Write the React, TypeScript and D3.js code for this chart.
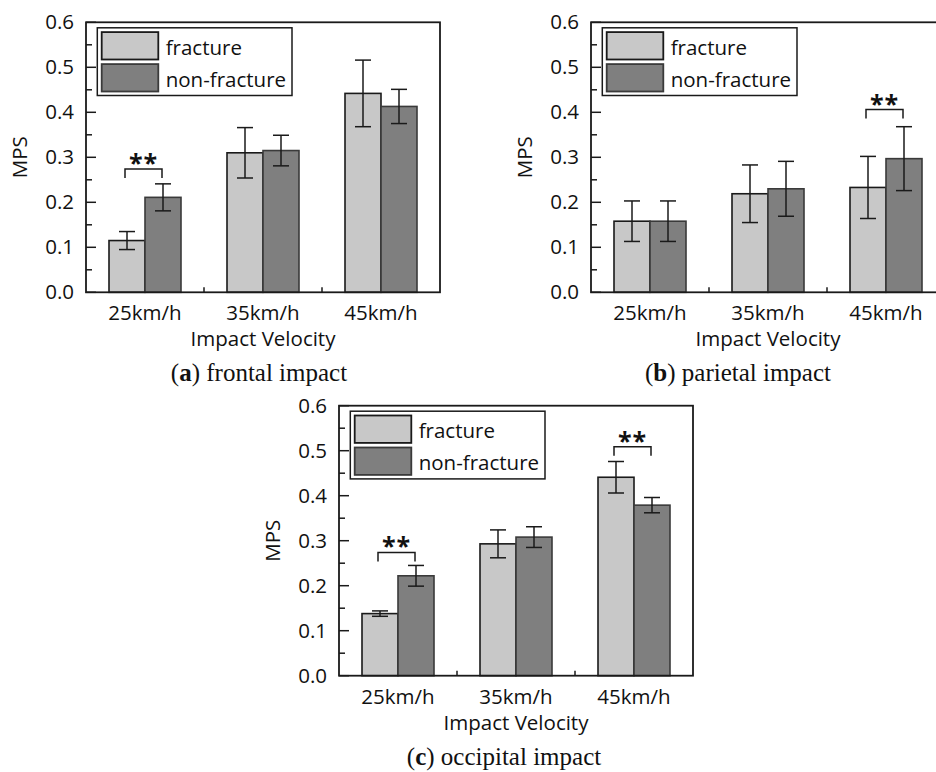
import React from 'react';
import * as d3 from 'd3';

// impact velocity groups
const categories = ['25km/h', '35km/h', '45km/h'];
const seriesNames = ['fracture', 'non-fracture'];
const yTicks = [0.0, 0.1, 0.2, 0.3, 0.4, 0.5, 0.6];
const yMinorTicks = [0.05, 0.15, 0.25, 0.35, 0.45, 0.55];

// (a) frontal impact
const frontalFracture = [0.115, 0.310, 0.442];
const frontalFractureErr = [0.020, 0.056, 0.074];
const frontalNonFracture = [0.211, 0.315, 0.413];
const frontalNonFractureErr = [0.030, 0.034, 0.038];
const frontalSig = [{ cat: '25km/h', level: 0.274 }];

// (b) parietal impact
const parietalFracture = [0.158, 0.219, 0.233];
const parietalFractureErr = [0.045, 0.064, 0.069];
const parietalNonFracture = [0.158, 0.230, 0.297];
const parietalNonFractureErr = [0.045, 0.061, 0.071];
const parietalSig = [{ cat: '45km/h', level: 0.406 }];

// (c) occipital impact
const occipitalFracture = [0.138, 0.293, 0.441];
const occipitalFractureErr = [0.006, 0.031, 0.035];
const occipitalNonFracture = [0.222, 0.308, 0.379];
const occipitalNonFractureErr = [0.023, 0.023, 0.017];
const occipitalSig = [{ cat: '25km/h', level: 0.274 }, { cat: '45km/h', level: 0.509 }];

const fills = ['#c8c8c8', '#7f7f7f'];
const strokes = ['#1a1a1a', '#3a3a3a'];
const sans = '"Open Sans", sans-serif';
const serif = '"Liberation Serif", serif';
const fontSize = 20.5;

const plotW = 354;
const plotH = 270;

type PanelProps = {
  left: number
  top: number
  values: number[][]
  errors: number[][]
  sig: { cat: string, level: number }[]
  letter: string
  caption: string
  captionX: number
}

const Panel = (props: PanelProps) => {
  const x0 = d3.scaleBand().domain(categories).range([0, plotW]);
  const bw = x0.bandwidth();
  const x1 = d3.scaleBand().domain(seriesNames).range([(bw - 72) / 2, (bw + 72) / 2]);
  const y = d3.scaleLinear().domain([0, 0.6]).range([plotH, 0]);
  const barW = x1.bandwidth();
  const cx = (c: string, s: string) => (x0(c) as number) + (x1(s) as number) + barW / 2;

  return (
    <g transform={`translate(${props.left},${props.top})`} fontFamily={sans} fontSize={fontSize} fill="#111">
      {/* bars */}
      {seriesNames.map((s, si) => categories.map((c, ci) => (
        <rect key={s + c}
          x={(x0(c) as number) + (x1(s) as number)}
          y={y(props.values[si][ci])}
          width={barW}
          height={plotH - y(props.values[si][ci])}
          fill={fills[si]} stroke={strokes[si]} strokeWidth={1.6} />
      )))}
      {/* error bars */}
      {seriesNames.map((s, si) => categories.map((c, ci) => {
        const v = props.values[si][ci];
        const e = props.errors[si][ci];
        const xc = cx(c, s);
        return (
          <g key={'e' + s + c} stroke="#1a1a1a" strokeWidth={1.5}>
            <line x1={xc} x2={xc} y1={y(v + e)} y2={y(v - e)} />
            <line x1={xc - 8} x2={xc + 8} y1={y(v + e)} y2={y(v + e)} />
            <line x1={xc - 8} x2={xc + 8} y1={y(v - e)} y2={y(v - e)} />
          </g>
        );
      }))}
      {/* significance */}
      {props.sig.map((d, i) => {
        const xa = cx(d.cat, seriesNames[0]) - 2;
        const xb = cx(d.cat, seriesNames[1]) - 1;
        const yl = y(d.level);
        return (
          <g key={'s' + i}>
            <path d={`M${xa},${yl + 9}V${yl}H${xb}V${yl + 9}`} fill="none" stroke="#1a1a1a" strokeWidth={1.5} />
            <text x={(xa + xb) / 2} y={yl + 3} textAnchor="middle" fontSize={25} fontWeight="bold" letterSpacing={1}>**</text>
          </g>
        );
      })}
      {/* frame */}
      <rect x={0} y={0} width={plotW} height={plotH} fill="none" stroke="#1a1a1a" strokeWidth={1.8} />
      {/* y ticks */}
      {yTicks.map(t => (
        <g key={'t' + t}>
          <line x1={0} x2={10} y1={y(t)} y2={y(t)} stroke="#1a1a1a" strokeWidth={1.5} />
          <text x={-12} y={y(t)} dy="0.35em" textAnchor="end">{t.toFixed(1)}</text>
        </g>
      ))}
      {yMinorTicks.map(t => (
        <line key={'m' + t} x1={0} x2={6} y1={y(t)} y2={y(t)} stroke="#1a1a1a" strokeWidth={1.5} />
      ))}
      {/* x ticks between groups */}
      {categories.slice(1).map(c => (
        <line key={'x' + c} x1={x0(c)} x2={x0(c)} y1={plotH} y2={plotH - 5} stroke="#1a1a1a" strokeWidth={1.5} />
      ))}
      {categories.map(c => (
        <text key={'l' + c} x={(x0(c) as number) + bw / 2} y={plotH + 28} textAnchor="middle">{c}</text>
      ))}
      <text x={plotW / 2} y={plotH + 54} textAnchor="middle">Impact Velocity</text>
      <text transform={`translate(-66,${plotH / 2}) rotate(-90)`} dy="0.35em" textAnchor="middle">MPS</text>
      {/* legend */}
      <g transform="translate(11.3,5.5)">
        <rect x={0} y={0} width={194.7} height={67.7} fill="#fff" stroke="#1a1a1a" strokeWidth={1.5} />
        {seriesNames.map((s, si) => (
          <g key={'lg' + s} transform={`translate(4.4,${4.3 + si * 32})`}>
            <rect x={0} y={0} width={56.6} height={27.4} fill={fills[si]} stroke={strokes[si]} strokeWidth={1.8} />
            <text x={64} y={22.5}>{s}</text>
          </g>
        ))}
      </g>
      {/* caption */}
      <text x={props.captionX - props.left} y={plotH + 89} textAnchor="middle" fontFamily={serif} fontSize={25}>
        (<tspan fontWeight="bold">{props.letter}</tspan>) {props.caption}
      </text>
    </g>
  );
};

const App = () => {
  return (
    <svg width={936} height={772} style={{ position: 'absolute', left: 0, top: 0, background: '#fff' }}>
      <rect width={936} height={772} fill="#fff" />
      <Panel left={86} top={22.3}
        values={[frontalFracture, frontalNonFracture]}
        errors={[frontalFractureErr, frontalNonFractureErr]}
        sig={frontalSig} letter="a" caption="frontal impact" captionX={259} />
      <Panel left={591} top={22.3}
        values={[parietalFracture, parietalNonFracture]}
        errors={[parietalFractureErr, parietalNonFractureErr]}
        sig={parietalSig} letter="b" caption="parietal impact" captionX={738} />
      <Panel left={339} top={405.7}
        values={[occipitalFracture, occipitalNonFracture]}
        errors={[occipitalFractureErr, occipitalNonFractureErr]}
        sig={occipitalSig} letter="c" caption="occipital impact" captionX={504} />
    </svg>
  );
};

export default App;
